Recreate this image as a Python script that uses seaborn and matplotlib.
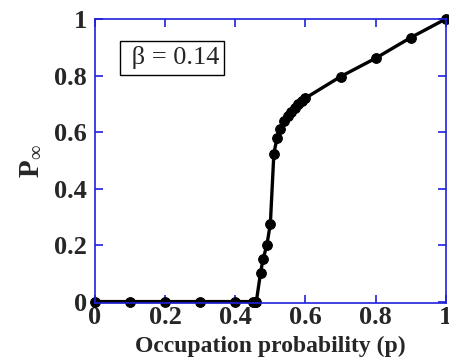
import matplotlib
matplotlib.use("Agg")
import matplotlib.pyplot as plt
import seaborn as sns
import pandas as pd

p_values = [0.0, 0.1, 0.2, 0.3, 0.4, 0.45, 0.455, 0.46, 0.472, 0.479, 0.49, 0.5,
            0.51, 0.519, 0.528, 0.54, 0.55, 0.56, 0.57, 0.58, 0.59, 0.6,
            0.7, 0.8, 0.9, 1.0]
P_inf = [0.0, 0.0, 0.0, 0.0, 0.0, 0.0, 0.0, 0.0, 0.102, 0.149, 0.2, 0.276,
         0.524, 0.579, 0.61, 0.64, 0.655, 0.67, 0.685, 0.70, 0.71, 0.72,
         0.796, 0.861, 0.934, 1.0]
x_ticks = [0, 0.2, 0.4, 0.6, 0.8, 1]
x_tick_labels = ["0", "0.2", "0.4", "0.6", "0.8", "1"]
y_ticks = [0, 0.2, 0.4, 0.6, 0.8, 1]
y_tick_labels = ["0", "0.2", "0.4", "0.6", "0.8", "1"]

sns.set_style("ticks")
plt.rcParams['font.family'] = ['Liberation Serif', 'DejaVu Serif']
plt.rcParams['mathtext.fontset'] = 'custom'
plt.rcParams['mathtext.rm'] = 'Liberation Serif'
plt.rcParams['mathtext.bf'] = 'Liberation Serif:bold'
plt.rcParams['mathtext.it'] = 'Liberation Serif:italic'

df = pd.DataFrame({"p": p_values, "P": P_inf})

fig = plt.figure(figsize=(4.49, 3.63), dpi=100)
ax = fig.add_axes([0.2116, 0.1653, 0.7811, 0.7824])

sns.lineplot(data=df, x="p", y="P", ax=ax, color="black", linewidth=2.4,
             marker="o", markersize=7, markeredgecolor="black", sort=False)
for line in ax.lines:
    line.set_clip_on(False)

ax.set_xlim(0, 1)
ax.set_ylim(-0.005, 1)
blue = "#2020dd"
for s in ax.spines.values():
    s.set_visible(True)
    s.set_color(blue)
    s.set_linewidth(1.2)
ax.set_xticks(x_ticks)
ax.set_xticklabels(x_tick_labels)
ax.set_yticks(y_ticks)
ax.set_yticklabels(y_tick_labels)
ax.tick_params(direction="in", length=6, width=1.2, color=blue,
               top=True, right=True, labelsize=19)
ax.tick_params(axis="y", pad=6)
ax.tick_params(axis="x", pad=2)
for lab in ax.get_xticklabels() + ax.get_yticklabels():
    lab.set_fontweight("bold")

ax.set_xlabel("Occupation probability (p)", fontsize=17, fontweight="bold", labelpad=5)
ax.set_ylabel(r"$\mathbf{P}_{\infty}$", fontsize=21, labelpad=7)

ax.text(0.085, 0.863, " β = 0.14", transform=ax.transAxes, fontsize=19,
        ha="left", va="center",
        bbox=dict(boxstyle="square,pad=0.2", facecolor="white", edgecolor="black", linewidth=1.0))

fig.savefig("out.png", dpi=100)
